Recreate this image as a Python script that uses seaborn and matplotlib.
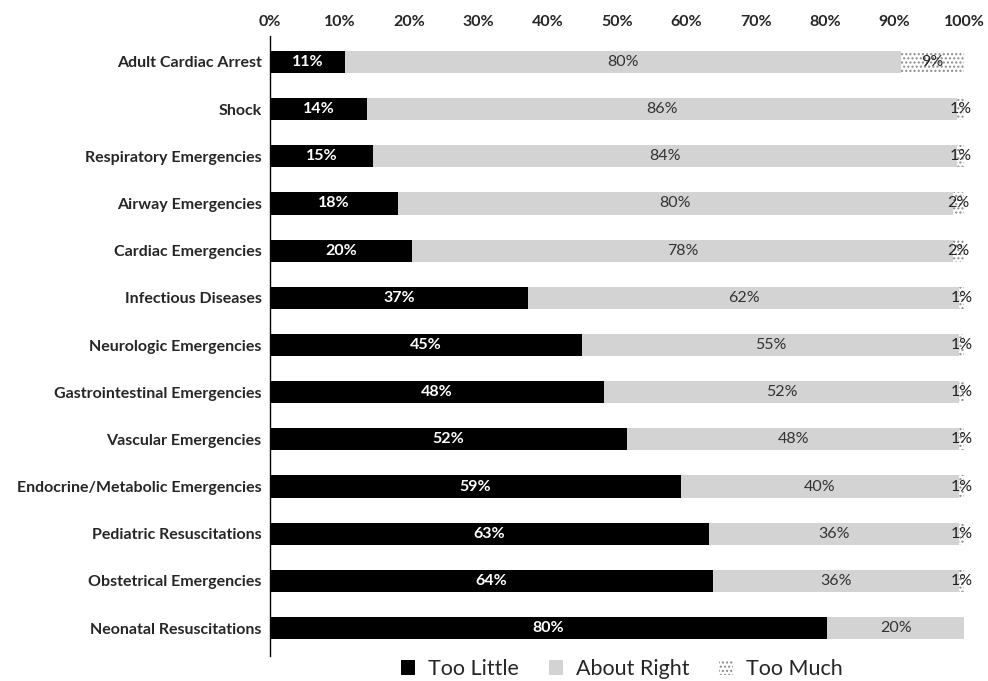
import matplotlib
matplotlib.use("Agg")
import matplotlib.pyplot as plt
import seaborn as sns
import pandas as pd
import numpy as np
from matplotlib.patches import Patch

categories = ["Adult Cardiac Arrest", "Shock", "Respiratory Emergencies", "Airway Emergencies",
              "Cardiac Emergencies", "Infectious Diseases", "Neurologic Emergencies",
              "Gastrointestinal Emergencies", "Vascular Emergencies", "Endocrine/Metabolic Emergencies",
              "Pediatric Resuscitations", "Obstetrical Emergencies", "Neonatal Resuscitations"]
too_little = [10.8, 14.0, 14.8, 18.4, 20.5, 37.2, 45.0, 48.1, 51.5, 59.2, 63.3, 63.8, 80.3]
too_much = [9.1, 1.0, 1.0, 1.6, 1.6, 0.7, 0.7, 0.7, 0.7, 0.7, 0.7, 0.7, 0.0]
about_right = [100 - a - b for a, b in zip(too_little, too_much)]
lab_little = [11, 14, 15, 18, 20, 37, 45, 48, 52, 59, 63, 64, 80]
lab_right = [80, 86, 84, 80, 78, 62, 55, 52, 48, 40, 36, 36, 20]
lab_much = [9, 1, 1, 2, 2, 1, 1, 1, 1, 1, 1, 1, None]
ticks = [0, 10, 20, 30, 40, 50, 60, 70, 80, 90, 100]

sns.set_theme(style="white")
plt.rcParams['font.family'] = ['Lato', 'DejaVu Sans']
plt.rcParams['hatch.linewidth'] = 1.0

df = pd.DataFrame({"cat": categories, "little": too_little, "right": about_right, "much": too_much})
df["c2"] = df["little"] + df["right"]
df["c3"] = df["c2"] + df["much"]

fig = plt.figure(figsize=(9.88, 6.81), dpi=100)
ax = fig.add_axes([270/988, 1 - 651.6/681, 694/988, (651.6 - 38.4)/681])

w = 0.47
sns.barplot(data=df, y="cat", x="c3", orient="h", color="white", edgecolor="#8a8a8a",
            linewidth=0, hatch="....", width=w, ax=ax, saturation=1)
n_hatch = len(ax.patches)
for p in ax.patches[:n_hatch]:
    p.set_hatch("....")
    p.set_edgecolor("#8a8a8a")
    p.set_linewidth(0)
sns.barplot(data=df, y="cat", x="c2", orient="h", color="#d3d3d3", edgecolor="none",
            width=w, ax=ax, saturation=1)
sns.barplot(data=df, y="cat", x="little", orient="h", color="black", edgecolor="none",
            width=w, ax=ax, saturation=1)

fs = 11.5
for i in range(len(categories)):
    ax.text(too_little[i] / 2, i, f"{lab_little[i]}%", color="white", ha="center", va="center",
            fontsize=fs, fontweight="bold")
    ax.text(too_little[i] + about_right[i] / 2, i, f"{lab_right[i]}%", color="#333333",
            ha="center", va="center", fontsize=fs)
    if lab_much[i] is not None:
        xm = too_little[i] + about_right[i] + too_much[i] / 2
        ax.text(xm, i, f"{lab_much[i]}%", color="#222222", ha="center", va="center", fontsize=fs)

ax.set_xlim(0, 100)
ax.set_ylim(len(categories) - 0.5, -0.5)
ax.set_xticks(ticks)
ax.set_xticklabels([f"{t}%" for t in ticks], fontsize=fs, fontweight="bold")
ax.xaxis.tick_top()
ax.tick_params(axis="x", length=0, pad=7)
ax.tick_params(axis="y", length=0, pad=6)
for lbl in ax.get_yticklabels():
    lbl.set_fontsize(fs)
    lbl.set_fontweight("bold")
ax.set_xlabel("")
ax.set_ylabel("")
for s in ["top", "right", "bottom"]:
    ax.spines[s].set_visible(False)
ax.spines["left"].set_color("black")
ax.spines["left"].set_linewidth(1.0)
ax.spines["left"].set_bounds(-0.55, len(categories) - 0.4)

handles = [Patch(facecolor="black", edgecolor="none", label="Too Little"),
           Patch(facecolor="#d3d3d3", edgecolor="none", label="About Right"),
           Patch(facecolor="white", edgecolor="#8a8a8a", linewidth=0, hatch="....", label="Too Much")]
fig.legend(handles=handles, loc="center", bbox_to_anchor=(622/988, 1 - 669/681), ncol=3,
           frameon=False, fontsize=15.5, handlelength=0.65, handleheight=0.65,
           columnspacing=1.4, handletextpad=0.6, borderpad=0)

fig.savefig("out.png", dpi=100)
